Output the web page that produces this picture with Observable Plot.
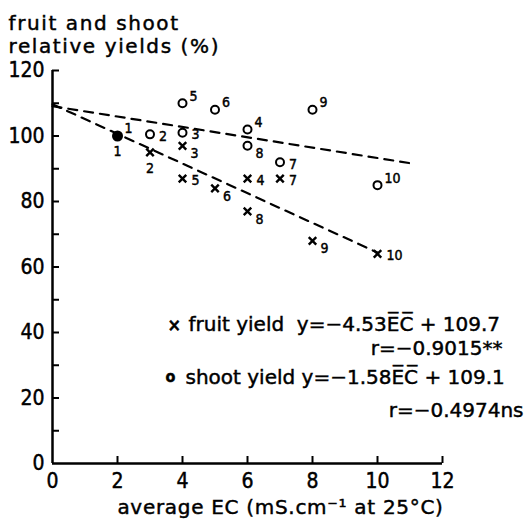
<!DOCTYPE html>
<html><head><meta charset="utf-8">
<script src="https://cdn.jsdelivr.net/npm/d3@7"></script>
<script src="https://cdn.jsdelivr.net/npm/@observablehq/plot@0.6"></script>
<style>
body{margin:0;background:#fff}
#chart svg text{stroke:#000;stroke-width:0.45px}
</style>
</head><body><div id="chart"></div>
<script>
// point numbers (treatment labels)
const pointLabels = ["1","2","3","4","5","6","7","8","9","10"];
// fruit yield (×)
const fruitEC = [2, 3, 4, 6, 4, 5, 7, 6, 8, 10];
const fruitYield = [100, 95, 97, 87, 87, 84, 87, 77, 68, 64];
// shoot yield (o)
const shootEC = [2, 3, 4, 6, 4, 5, 7, 6, 8, 10];
const shootYield = [100, 100.5, 101, 102, 110, 108, 92, 97, 108, 85];
// label placement codes around each point
const fruitPlace = ["below","below","lowerRight","right","right","lowerRight","right","lowerRight","lowerRight","right"];
const shootPlace = ["upperRight","right","right","upperRight","upperRight","upperRight","right","lowerRight","upperRight","upperRight"];
// regression lines (end points)
const fruitLineEC = [0, 10];
const fruitLineY = [109.7, 64.4];
const shootLineEC = [0, 11];
const shootLineY = [109.1, 91.7];
// ticks
const xTicks = [0, 2, 4, 6, 8, 10, 12];
const yTicks = [0, 20, 40, 60, 80, 100, 120];
const yMinorTicks = [10, 20, 30, 40, 50, 60, 70, 80, 90, 100, 110, 120];
// texts
const titleLines = ["fruit and shoot", "relative yields (%)"];
const xLabel = "average EC (mS.cm\u207B\u00B9 at 25°C)";
const fruitLegend = "fruit yield  y=\u22124.53E\u0305C\u0305 + 109.7";
const fruitR = "r=\u22120.9015**";
const shootLegend = "shoot yield y=\u22121.58E\u0305C\u0305 + 109.1";
const shootR = "r=\u22120.4974ns";

const font = "DejaVu Sans Condensed";
const textFont = "DejaVu Sans";
const offsets = {
  below: {dx: 0, dy: 16, textAnchor: "middle"},
  lowerRight: {dx: 8, dy: 8, textAnchor: "start"},
  right: {dx: 9, dy: 2, textAnchor: "start"},
  upperRight: {dx: 7, dy: -7, textAnchor: "start"}
};
const idx = d3.range(pointLabels.length);
function labelMarks(xs, ys, place) {
  return Object.entries(offsets).map(([k, o]) =>
    Plot.text(idx.filter(i => place[i] === k), {
      x: i => xs[i], y: i => ys[i], text: i => pointLabels[i],
      dx: o.dx, dy: o.dy, textAnchor: o.textAnchor, fontSize: 14, fill: "black"
    }));
}

const chart = Plot.plot({
  width: 528, height: 519,
  marginLeft: 52, marginRight: 86, marginTop: 70, marginBottom: 56,
  x: {domain: [0, 12]},
  y: {domain: [0, 120]},
  style: {fontFamily: font, fontSize: "20px", color: "black", background: "white"},
  marks: [
    Plot.axisY(yMinorTicks, {tickSize: -7, tickFormat: () => "", label: null, strokeWidth: 2}),
    Plot.axisY(yTicks, {tickSize: 0, tickPadding: 8, fontSize: 21, label: null}),
    Plot.axisX(xTicks.slice(1), {tickSize: -7, tickFormat: () => "", label: null, strokeWidth: 2}),
    Plot.axisX(xTicks, {tickSize: 0, tickPadding: 10, fontSize: 21, label: null}),
    Plot.ruleX([0], {strokeWidth: 2.5}),
    Plot.ruleY([0], {strokeWidth: 2.5}),
    Plot.line([0, 1], {x: i => fruitLineEC[i], y: i => fruitLineY[i], strokeDasharray: "9,7", strokeWidth: 2.2}),
    Plot.line([0, 1], {x: i => shootLineEC[i], y: i => shootLineY[i], strokeDasharray: "9,7", strokeWidth: 2.2}),
    Plot.dot(idx.slice(1), {x: i => fruitEC[i], y: i => fruitYield[i], symbol: "times", r: 3.5, stroke: "black", strokeWidth: 2.4}),
    Plot.dot(idx.slice(1), {x: i => shootEC[i], y: i => shootYield[i], r: 4, stroke: "black", fill: "white", strokeWidth: 2}),
    Plot.dot([0], {x: i => fruitEC[i], y: i => fruitYield[i], r: 5.5, fill: "black"}),
    ...labelMarks(fruitEC, fruitYield, fruitPlace),
    ...labelMarks(shootEC, shootYield, shootPlace),
    Plot.text([titleLines.join("\n")], {text: d => d, frameAnchor: "top-left", dx: -44, dy: -57, lineAnchor: "top", lineHeight: 1.15, textAnchor: "start", fontSize: 20, fontFamily: textFont}),
    Plot.text([xLabel], {text: d => d, frameAnchor: "bottom", dx: 33, dy: 44, lineAnchor: "middle", fontSize: 20, fontFamily: textFont}),
    Plot.text(["×"], {text: d => d, frameAnchor: "top-left", dx: 115, dy: 255, lineAnchor: "middle", fontSize: 18, fontWeight: "bold"}),
    Plot.text([fruitLegend], {text: d => d, frameAnchor: "top-left", dx: 136, dy: 254, lineAnchor: "middle", textAnchor: "start", fontSize: 20, fontFamily: textFont}),
    Plot.text([fruitR], {text: d => d, frameAnchor: "top-left", dx: 450, dy: 278, lineAnchor: "middle", textAnchor: "end", fontSize: 20, fontFamily: textFont}),
    Plot.text(["o"], {text: d => d, frameAnchor: "top-left", dx: 113, dy: 306, lineAnchor: "middle", fontSize: 16, fontWeight: "bold"}),
    Plot.text([shootLegend], {text: d => d, frameAnchor: "top-left", dx: 133, dy: 307, lineAnchor: "middle", textAnchor: "start", fontSize: 20, fontFamily: textFont}),
    Plot.text([shootR], {text: d => d, frameAnchor: "top-left", dx: 471, dy: 340, lineAnchor: "middle", textAnchor: "end", fontSize: 20, fontFamily: textFont})
  ]
});
// widen the letter spacing of the title and the x-axis label, as in the reference
chart.querySelectorAll("text").forEach(t => {
  const s = t.textContent;
  if (s.startsWith(titleLines[0])) t.setAttribute("letter-spacing", "1.6px");
  else if (s === xLabel) t.setAttribute("letter-spacing", "0.7px");
});
document.getElementById("chart").appendChild(chart);
</script>
</body></html>
